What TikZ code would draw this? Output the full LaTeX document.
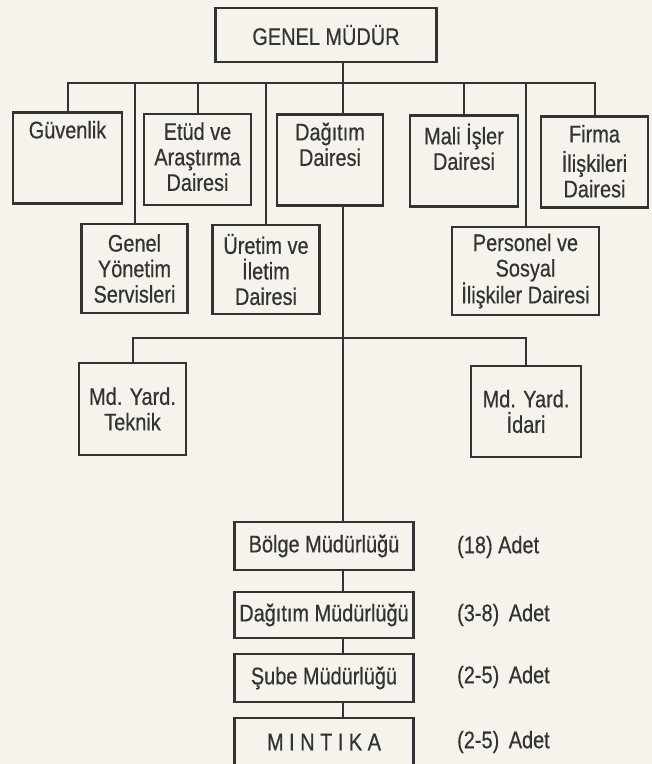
\documentclass[tikz,border=0pt]{standalone}
\usepackage{fontspec}
\setmainfont{Liberation Sans}[FakeStretch=0.83,FakeBold=0.5]
\usepackage{tikz}

\definecolor{ink}{HTML}{333333}
\definecolor{paper}{HTML}{F5F3EC}

\newcommand{\toptxt}[1]{\parbox[c][75pt][t]{100pt}{\centering\strut #1}}

\tikzset{
  unit/.style={draw=ink, line width=2.2pt, inner sep=0pt, align=center,
               minimum width=107pt, minimum height=90pt},
  daire/.style={unit, minimum height=91pt},
  kademe/.style={unit, minimum width=179pt, minimum height=47pt},
  adet/.style={anchor=west, inner sep=0pt},
  hat/.style={draw=ink, line width=2pt}
}

\begin{document}
\begin{tikzpicture}[x=1pt,y=-1pt]
\fontsize{24}{25.5}\selectfont
\color{ink}
\fill [paper] (0,0) rectangle (652,764);
\useasboundingbox (0,0) rectangle (652,764);
% genel mudur
\node [unit, minimum width=221pt, minimum height=54pt] (gm) at (326,35) {GENEL MÜDÜR};
% first row
\node [daire, minimum width=109pt] (guv) at (67.5,158) {\toptxt{Güvenlik}};
\node [daire] (etd) at (197.5,159.5) {\toptxt{Etüd ve\\Araştırma\\Dairesi}};
\node [daire, minimum width=106pt] (dag) at (330,160) {\toptxt{Dağıtım\\Dairesi}};
\node [daire, minimum width=108pt] (mal) at (464,161) {\toptxt{Mali İşler\\Dairesi}};
\node [daire] (fir) at (594.5,162) {\toptxt{Firma\\İlişkileri\\Dairesi}};
% second row
\node [unit, minimum width=106pt, minimum height=89pt] (gys) at (134.5,268.5) {Genel\\Yönetim\\Servisleri};
\node [unit, minimum width=107pt, minimum height=89pt] (ure) at (266,269.5) {Üretim ve\\İletim\\Dairesi};
\node [unit, minimum width=147pt, minimum height=88pt] (per) at (525.5,271) {Personel ve\\Sosyal\\İlişkiler Dairesi};
% yardimcilar
\node [unit, minimum height=92pt] (tek) at (132.5,409) {Md. Yard.\\Teknik};
\node [unit, minimum width=110pt, minimum height=91pt] (idr) at (526,411.5) {Md. Yard.\\İdari};
% kademeler
\node [kademe, minimum height=48pt] (bol) at (324,546) {Bölge Müdürlüğü};
\node [kademe, minimum height=46pt] (dmu) at (324,615) {Dağıtım Müdürlüğü};
\node [kademe, minimum height=48pt] (sub) at (324,678) {Şube Müdürlüğü};
\node [kademe, minimum height=48pt] (mnt) at (324,742) {M I N T I K A};
\node [adet] (a1) at (457,547) {(18) Adet};
\node [adet] (a2) at (457,615) {(3-8) \,Adet};
\node [adet] (a3) at (457,677) {(2-5) \,Adet};
\node [adet] (a4) at (457,742) {(2-5) \,Adet};
% lines
\coordinate (top) at (343,83);
\coordinate (mid) at (343,338);
\draw [hat] (gm.south -| top) -- (top);
\draw [hat] (guv.north) |- (top) -| (fir.north);
\foreach \n in {etd,mal,gys,ure,per}
  \draw [hat] (\n.north) -- (\n.north |- top);
\draw [hat] (dag.north -| top) -- (top);
\draw [hat] (dag.south -| top) -- (bol.north -| top);
\draw [hat] (tek.north) |- (mid) -| (idr.north);
\draw [hat] (bol.south -| top) -- (dmu.north -| top);
\draw [hat] (dmu.south -| top) -- (sub.north -| top);
\draw [hat] (sub.south -| top) -- (mnt.north -| top);
\end{tikzpicture}
\end{document}
